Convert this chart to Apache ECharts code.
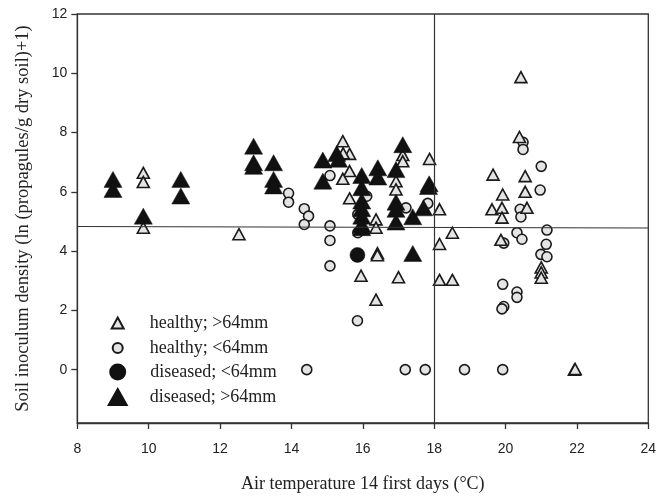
<!DOCTYPE html>
<html><head><meta charset="utf-8">
<script src="https://cdn.jsdelivr.net/npm/echarts@6/dist/echarts.min.js"></script>
<style>html,body{margin:0;padding:0;background:#fff}#c{width:667px;height:498px}</style>
</head><body><div id="c"></div>
<script>
// x: air temperature (°C), y: ln(propagules/g dry soil)+1
const healthyLarge = [
  [9.85,6.64],[9.85,6.33],[9.85,4.79],[12.53,4.57],
  [15.44,7.71],[15.63,7.28],[15.45,7.3],[15.63,6.7],[15.44,6.44],[15.63,5.78],
  [16.37,5.07],[16.37,4.79],[16.41,3.93],[16.41,3.86],[15.95,3.17],[17.0,3.12],[16.37,2.36],
  [17.12,7.24],[17.12,7.03],[16.93,6.36],[16.93,6.08],[17.87,7.11],
  [18.15,5.41],[18.51,4.62],[18.15,4.24],[18.15,3.03],[18.51,3.03],
  [20.43,9.87],[20.39,7.85],[19.65,6.58],[20.55,6.53],[19.92,5.91],[20.55,6.0],
  [19.62,5.41],[19.9,5.46],[19.9,5.13],[20.6,5.46],[19.87,4.38],
  [21.0,3.45],[21.0,3.28],[21.0,3.1],[21.93,0],[21.95,0.02]
];
const healthySmall = [
  [13.92,5.95],[13.92,5.65],[14.36,5.43],[14.48,5.18],[14.36,4.9],
  [15.08,6.55],[15.08,4.85],[15.08,4.36],[15.08,3.5],
  [15.86,5.24],[15.86,4.62],[16.11,5.85],[15.85,1.65],[17.21,5.46],[17.82,5.61],
  [14.43,0],[17.19,0],[17.75,0],[18.85,0],[19.92,0],
  [20.49,7.67],[20.49,7.43],[21.0,6.86],[20.97,6.06],[20.41,5.41],[20.43,5.15],
  [21.16,4.71],[20.32,4.62],[20.46,4.4],[19.95,4.27],[21.14,4.23],[20.99,3.89],[21.16,3.81],
  [19.92,2.88],[20.32,2.62],[20.32,2.44],[19.95,2.13],[19.9,2.05]
];
const diseasedSmall = [[15.85,3.87]];
const diseasedLarge = [
  [9.0,6.42],[9.0,6.08],[9.85,5.18],[10.9,6.42],[10.9,5.86],
  [12.94,7.54],[12.94,6.98],[12.94,6.86],[13.5,6.98],[13.5,6.42],[13.5,6.2],
  [14.88,7.07],[14.88,6.36],[15.27,7.29],[15.32,7.1],
  [15.97,6.55],[15.97,6.14],[15.97,5.69],[15.97,5.43],[15.97,5.18],[15.97,4.9],[15.97,4.79],
  [16.42,6.81],[16.42,6.5],
  [16.93,6.75],[16.93,5.65],[16.93,5.41],[16.93,4.98],
  [17.12,7.59],[17.4,5.16],[17.7,5.46],[17.86,6.27],[17.84,6.18],[17.4,3.92]
];
const seriesNames = ['healthy; >64mm','healthy; <64mm','diseased; <64mm','diseased; >64mm'];
const yTicks = [0,2,4,6,8,10,12];
const xTicks = [8,10,12,14,16,18,20,22,24];
const hLine = [[8,4.83],[24,4.78]];
const vLineX = 18;

const chart = echarts.init(document.getElementById('c'), null, {renderer:'canvas'});
const serif = '"Liberation Serif","Times New Roman",serif';
const sans = '"Liberation Sans",Arial,sans-serif';
const lightFill = '#e4e4e4';
const dark = '#1a1a1a';

function legendFor(i, w, h, cy, padLeft){
  return {
    data:[seriesNames[i]], orient:'vertical', left: 116.7 - w/2, top: cy - Math.max(h,18)/2,
    padding:0, itemWidth:w, itemHeight:h,
    textStyle:{fontFamily:serif, fontSize:18, color:'#222', padding:[0,0,0,padLeft], lineHeight:18}
  };
}

chart.setOption({
  animation:false,
  backgroundColor:'#fff',
  grid:{left:77.3, right:18.7, top:14, bottom:74, show:true, borderColor:'#333', borderWidth:1.3, backgroundColor:'transparent'},
  legend:[
    legendFor(0, 12, 11, 323, 21),
    legendFor(1, 10, 10, 348, 22),
    legendFor(2, 15, 15, 372, 20),
    legendFor(3, 18, 16, 397, 18)
  ],
  xAxis:{
    type:'value', min:8, max:24, interval:2,
    axisLine:{show:true, onZero:false, lineStyle:{color:'#333', width:1.3}},
    axisTick:{show:true, length:6, lineStyle:{color:'#333', width:1.3}, customValues:xTicks},
    axisLabel:{fontFamily:sans, fontSize:14, color:'#222', margin:19, customValues:xTicks},
    splitLine:{show:false},
    name:'Air temperature 14 first days (°C)', nameLocation:'middle', nameGap:52,
    nameTextStyle:{fontFamily:serif, fontSize:18, color:'#222'}
  },
  yAxis:{
    type:'value', min:-1.8, max:12,
    axisLine:{show:true, onZero:false, lineStyle:{color:'#333', width:1.3}},
    axisTick:{show:true, length:6, lineStyle:{color:'#333', width:1.3}, customValues:yTicks},
    axisLabel:{fontFamily:sans, fontSize:14, color:'#222', margin:10, customValues:yTicks},
    splitLine:{show:false},
    name:'Soil inoculum density (ln (propagules/g dry soil)+1)', nameLocation:'middle', nameGap:45,
    nameTextStyle:{fontFamily:serif, fontSize:18.5, color:'#222'}
  },
  series:[
    {name:seriesNames[1], type:'scatter', data:healthySmall, symbol:'circle', symbolSize:10, z:2,
     itemStyle:{color:lightFill, borderColor:dark, borderWidth:1.6, opacity:1}},
    {name:seriesNames[0], type:'scatter', data:healthyLarge, symbol:'triangle', symbolSize:[12,11], z:3,
     itemStyle:{color:lightFill, borderColor:dark, borderWidth:1.6, opacity:1},
     markLine:{silent:true, symbol:'none', label:{show:false}, lineStyle:{color:'#333', width:1.2, type:'solid'},
       data:[[{coord:hLine[0]},{coord:hLine[1]}], {xAxis:vLineX}]}},
    {name:seriesNames[3], type:'scatter', data:diseasedLarge, symbol:'triangle', symbolSize:[18,16], z:4,
     itemStyle:{color:'#111', borderColor:'#111', borderWidth:0.5, opacity:1}},
    {name:seriesNames[2], type:'scatter', data:diseasedSmall, symbol:'circle', symbolSize:15, z:5,
     itemStyle:{color:'#111', borderColor:'#111', borderWidth:0.5, opacity:1}}
  ]
});
</script></body></html>
